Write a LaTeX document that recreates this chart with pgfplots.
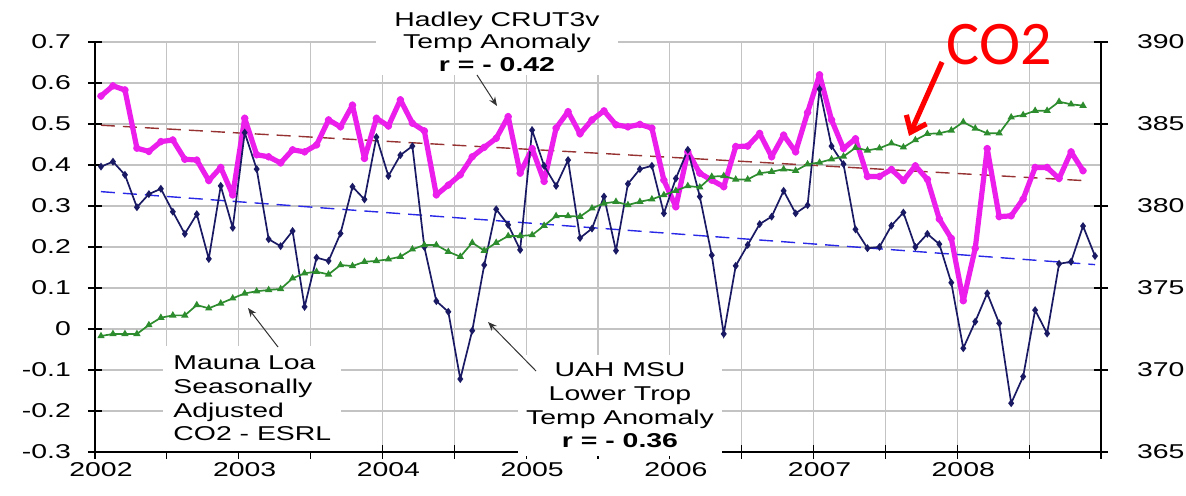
\documentclass[border=0pt]{standalone}
\usepackage{pgfplots}
\pgfplotsset{compat=1.18}
\usepackage{pgfplotstable}
\usepackage{fontspec}
\usetikzlibrary{arrows.meta}
\setmainfont{Liberation Sans}[FakeStretch=1.42]
\newfontfamily\calib{Carlito}
\definecolor{mag}{RGB}{235,30,235}
\definecolor{navy}{RGB}{25,25,100}
\definecolor{grn}{RGB}{45,140,45}
\definecolor{brn}{RGB}{150,50,50}
\definecolor{blu}{RGB}{40,40,230}
\definecolor{gridc}{RGB}{195,195,195}

\pgfplotstableread{
i uah
0 0.396
1 0.408
2 0.376
3 0.297
4 0.329
5 0.342
6 0.286
7 0.232
8 0.280
9 0.171
10 0.349
11 0.247
12 0.479
13 0.39
14 0.219
15 0.202
16 0.239
17 0.054
18 0.174
19 0.166
20 0.233
21 0.347
22 0.316
23 0.468
24 0.373
25 0.424
26 0.446
27 0.20
28 0.068
29 0.042
30 -0.122
31 -0.004
32 0.156
33 0.292
34 0.254
35 0.193
36 0.485
37 0.398
38 0.349
39 0.412
40 0.222
41 0.245
42 0.323
43 0.191
44 0.354
45 0.39
46 0.398
47 0.282
48 0.367
49 0.437
50 0.323
51 0.18
52 -0.012
53 0.154
54 0.205
55 0.256
56 0.274
57 0.337
58 0.282
59 0.302
60 0.585
61 0.446
62 0.402
63 0.243
64 0.197
65 0.2
66 0.252
67 0.284
68 0.2
69 0.232
70 0.207
71 0.113
72 -0.047
73 0.018
74 0.087
75 0.014
76 -0.181
77 -0.116
78 0.046
79 -0.011
80 0.159
81 0.164
82 0.251
83 0.178
}\uahtable

\pgfplotstableread{
i had
0 0.568
1 0.593
2 0.583
3 0.441
4 0.433
5 0.457
6 0.461
7 0.414
8 0.412
9 0.362
10 0.394
11 0.327
12 0.514
13 0.425
14 0.42
15 0.405
16 0.437
17 0.432
18 0.449
19 0.51
20 0.493
21 0.546
22 0.416
23 0.514
24 0.495
25 0.559
26 0.502
27 0.483
28 0.327
29 0.351
30 0.376
31 0.42
32 0.443
33 0.465
34 0.518
35 0.38
36 0.44
37 0.36
38 0.49
39 0.53
40 0.476
41 0.51
42 0.532
43 0.498
44 0.493
45 0.499
46 0.49
47 0.363
48 0.298
49 0.432
50 0.38
51 0.363
52 0.347
53 0.445
54 0.446
55 0.477
56 0.42
57 0.473
58 0.432
59 0.528
60 0.62
61 0.51
62 0.44
63 0.464
64 0.372
65 0.372
66 0.389
67 0.362
68 0.398
69 0.365
70 0.268
71 0.221
72 0.069
73 0.197
74 0.44
75 0.274
76 0.276
77 0.317
78 0.394
79 0.394
80 0.367
81 0.432
82 0.386
}\hadtable

\pgfplotstableread{
i co
0 372.07
1 372.2
2 372.2
3 372.2
4 372.74
5 373.19
6 373.33
7 373.33
8 373.96
9 373.76
10 374.06
11 374.37
12 374.67
13 374.8
14 374.88
15 374.94
16 375.59
17 375.9
18 375.99
19 375.83
20 376.4
21 376.34
22 376.6
23 376.65
24 376.75
25 376.91
26 377.36
27 377.62
28 377.62
29 377.21
30 376.91
31 377.76
32 377.28
33 377.76
34 378.17
35 378.17
36 378.23
37 378.8
38 379.39
39 379.39
40 379.35
41 379.86
42 380.16
43 380.26
44 380.06
45 380.26
46 380.41
47 380.67
48 380.93
49 381.22
50 381.14
51 381.79
52 381.83
53 381.62
54 381.62
55 382.0
56 382.09
57 382.24
58 382.15
59 382.55
60 382.65
61 382.85
62 383.02
63 383.55
64 383.39
65 383.52
66 383.82
67 383.58
68 384.02
69 384.4
70 384.43
71 384.61
72 385.12
73 384.73
74 384.43
75 384.43
76 385.41
77 385.55
78 385.81
79 385.81
80 386.36
81 386.2
82 386.12
}\cotable

\begin{document}
\begin{tikzpicture}
\useasboundingbox (-47.5pt,-22pt) rectangle (545.5pt,226pt);
\begin{axis}[
  at={(0,0)}, anchor=south west,
  scale only axis, width=503pt, height=205pt,
  xmin=-0.5, xmax=83.5, ymin=-0.3, ymax=0.7,
  axis x line*=bottom, axis y line*=left,
  axis line style={black, line width=0.8pt},
  xtick={-0.5,5.5,11.5,17.5,23.5,29.5,35.5,41.5,47.5,53.5,59.5,65.5,71.5,77.5,83.5},
  xticklabels={},
  extra x ticks={0,12,24,36,48,60,72},
  extra x tick labels={2002,2003,2004,2005,2006,2007,2008},
  extra x tick style={major tick length=0pt, grid=none},
  ytick={-0.3,-0.2,-0.1,0,0.1,0.2,0.3,0.4,0.5,0.6,0.7},
  yticklabels={-0.3,-0.2,-0.1,0,0.1,0.2,0.3,0.4,0.5,0.6,0.7},
  grid=major, major grid style={gridc, line width=0.55pt},
  tick align=center, major tick length=7pt,
  tick style={black, line width=0.6pt},
  tick label style={font=\fontsize{10}{12}\selectfont},
  xticklabel style={yshift=-1.5pt},
  yticklabel style={xshift=-5pt},
  clip=false,
]
\addplot[brn, line width=0.7pt, dash pattern=on 7pt off 4pt] coordinates {(0,0.497) (82,0.362)};
\addplot[blu, line width=0.7pt, dash pattern=on 7pt off 4pt] coordinates {(0,0.335) (83,0.157)};
\addplot[mag, line width=2.6pt, line join=round, mark=*, mark size=0.6pt, mark options={fill=mag!60!black, draw=none}] table[x=i,y=had]{\hadtable};
\addplot[navy, line width=0.85pt, mark=diamond*, mark size=1.3pt] table[x=i,y=uah]{\uahtable};
\end{axis}
\begin{axis}[
  at={(0,0)}, anchor=south west,
  scale only axis, width=503pt, height=205pt,
  xmin=-0.5, xmax=83.5, ymin=365, ymax=390,
  axis x line=none, axis y line*=right,
  axis line style={black, line width=0.8pt},
  ytick={365,370,375,380,385,390},
  yticklabels={365,370,375,380,385,390},
  tick align=center, major tick length=7pt,
  tick style={black, line width=0.6pt},
  tick label style={font=\fontsize{10}{12}\selectfont},
  yticklabel style={xshift=11pt},
]
\addplot[grn, line width=0.85pt, mark=triangle*, mark size=1.3pt] table[x=i,y=co]{\cotable};
\end{axis}
\begin{scope}[x=0.5pt,y=-0.5pt,shift={(-95,-452)}]
\node[fill=white, inner xsep=9pt, inner ysep=2pt, align=center, font=\fontsize{10}{11.3}\selectfont] at (497,41.5)
  {Hadley CRUT3v\\Temp Anomaly\\\textbf{r = - 0.42}};
\draw[black!80, line width=0.5pt, -{Stealth[length=4.5pt,width=3.5pt]}] (477,75) -- (497,106);
\node[fill=white, inner sep=5pt, align=left, anchor=west, font=\fontsize{10}{11.8}\selectfont] at (163,398.5)
  {Mauna Loa\\Seasonally\\Adjusted\\CO2 - ESRL};
\draw[black!80, line width=0.5pt, -{Stealth[length=4.5pt,width=3.5pt]}] (278,347) -- (248,308);
\node[fill=white, inner sep=4pt, align=center, font=\fontsize{10}{11.8}\selectfont] at (620,405.5)
  {UAH MSU\\Lower Trop\\Temp Anomaly\\\textbf{r = - 0.36}};
\draw[black!80, line width=0.5pt, -{Stealth[length=4.5pt,width=3.5pt]}] (536,371) -- (488,322);
\node[text=red, inner sep=0pt, font=\calib\fontsize{31}{31}\selectfont] at (999,45) {CO2};
\draw[red, line width=2.6pt, -{Straight Barb[length=7pt,width=11pt]}] (942,62) -- (909,136);
\end{scope}
\end{tikzpicture}
\end{document}
